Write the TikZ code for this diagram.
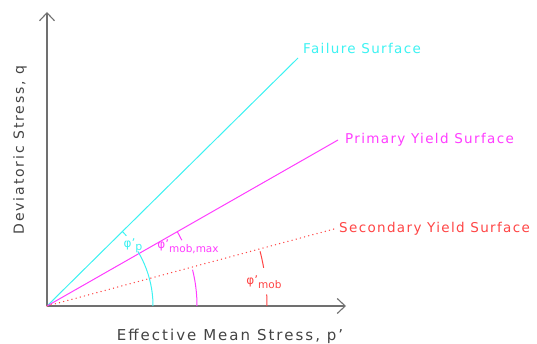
\documentclass[tikz,border=0pt]{standalone}
\usepackage{fontspec}
\setmainfont{DejaVu Sans}
\newfontfamily\surffont{DejaVu Sans}[LetterSpace=10]
\newfontfamily\axfont{DejaVu Sans}[LetterSpace=13.5]
\usetikzlibrary{arrows.meta,calc}
\definecolor{failc}{HTML}{3DF2F2}
\definecolor{primc}{HTML}{FF3DFF}
\definecolor{secc}{HTML}{FF4545}
\definecolor{axisc}{HTML}{707070}

\begin{document}
\begin{tikzpicture}[x=1pt,y=1pt,
  axis/.style={axisc,line width=1.4pt,-{Straight Barb[length=8pt,width=15pt,line width=1.1pt]}},
  surf/.style={line width=1pt},
  lbl/.style={font=\surffont\fontsize{13.5}{15}\selectfont,inner sep=0pt,anchor=west}]
  \useasboundingbox (0,0) rectangle (537,343);
  % origin and line ends
  \coordinate (O) at (47,37);
  \coordinate (qtop) at (47,331);
  \coordinate (pend) at (346,37);
  \coordinate (fail) at (298,285);
  \coordinate (prim) at (338,203);
  \coordinate (sec) at (334,114);
  % axes
  \draw[axis] (O) -- (qtop);
  \draw[axis] (O) -- (pend);
  \node[axisc!60!black,font=\axfont\fontsize{15}{17}\selectfont] (plab) at (230,7) {Effective Mean Stress, p\textquoteright};
  \node[axisc!60!black,font=\axfont\fontsize{14}{16}\selectfont,rotate=90] (qlab) at (20,193) {Deviatoric Stress, q};
  % surfaces
  \draw[failc,surf] (O) -- (fail);
  \draw[primc,surf] (O) -- (prim);
  \draw[secc,surf,line cap=round,dash pattern=on 0.1pt off 4.2pt,line width=1.4pt] (O) -- (sec);
  \node[failc,lbl] (faillab) at ($(fail)+(5,10)$) {Failure Surface};
  \node[primc,lbl] (primlab) at ($(prim)+(7,0)$) {Primary Yield Surface};
  \node[secc,lbl] (seclab) at ($(sec)+(5,0)$) {Secondary Yield Surface};
  % angles
  \draw[failc,surf] ($(O)+(0:106)$) arc[start angle=0,end angle=31,radius=106];
  \draw[failc,surf] ($(O)+(41.5:106)$) arc[start angle=41.5,end angle=44.6,radius=106];
  \draw[primc,surf] ($(O)+(0:150)$) arc[start angle=0,end angle=14,radius=150];
  \draw[primc,surf] ($(O)+(26:150)$) arc[start angle=26,end angle=29.7,radius=150];
  \draw[secc,surf] ($(O)+(0:220)$) arc[start angle=0,end angle=3,radius=220];
  \draw[secc,surf] ($(O)+(10:220)$) arc[start angle=10,end angle=14.4,radius=220];
  \node[failc,font=\fontsize{12}{14}\selectfont,inner sep=0pt] (phip) at (133,97) {φ'\raisebox{-0.5ex}{\fontsize{11}{12}\selectfont p}};
  \node[primc,font=\fontsize{12}{14}\selectfont,inner sep=0pt] (phimax) at (188,96) {φ'\raisebox{-0.6ex}{\fontsize{10.5}{12}\selectfont mob,max}};
  \node[secc,font=\fontsize{12}{14}\selectfont,inner sep=0pt] (phimob) at (264,61) {φ'\raisebox{-0.6ex}{\fontsize{10.5}{12}\selectfont mob}};
\end{tikzpicture}
\end{document}
